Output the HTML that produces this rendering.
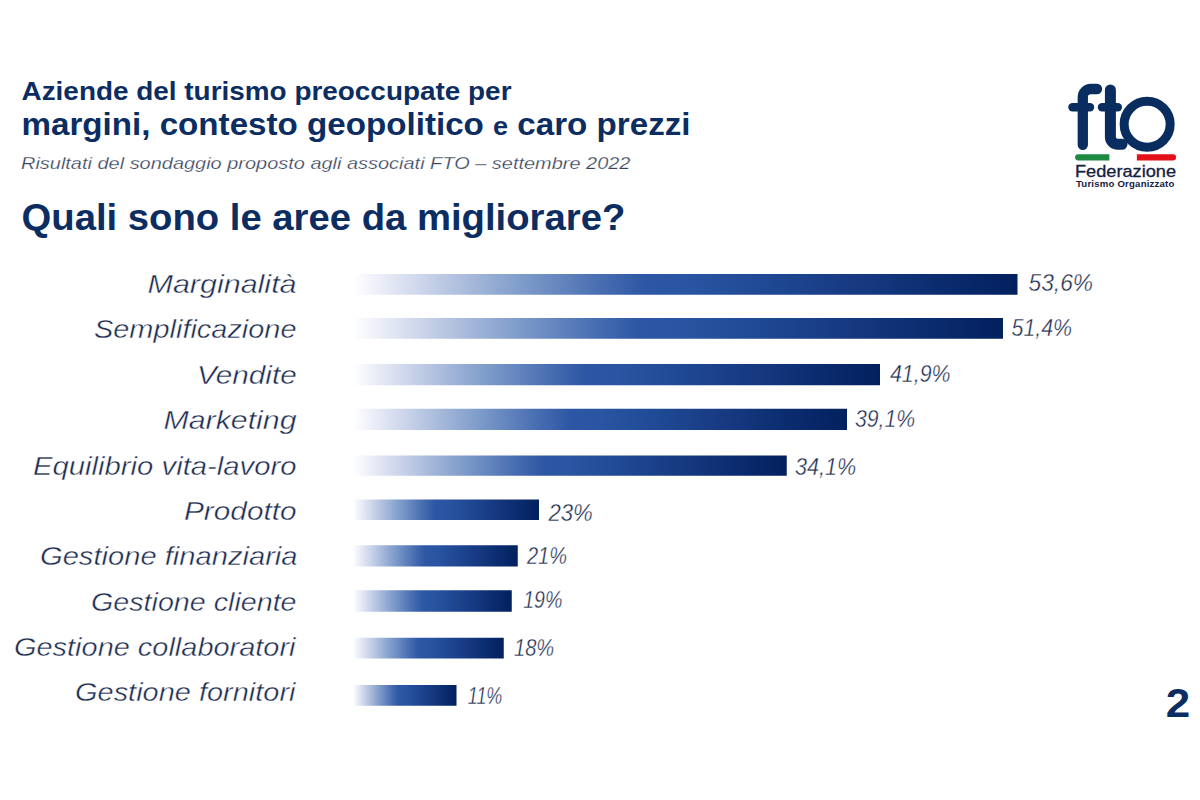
<!DOCTYPE html>
<html><head><meta charset="utf-8"><style>
html,body{margin:0;padding:0;background:#fff;width:1200px;height:800px;overflow:hidden}
svg{display:block}
text{font-family:"Liberation Sans",sans-serif}
</style></head><body>
<svg width="1200" height="800" viewBox="0 0 1200 800">
<defs><linearGradient id="g" x1="0" y1="0" x2="1" y2="0"><stop offset="0" stop-color="#ffffff"/><stop offset="0.07" stop-color="#dde2f2"/><stop offset="0.16" stop-color="#afbfde"/><stop offset="0.25" stop-color="#809dcb"/><stop offset="0.38" stop-color="#456bb0"/><stop offset="0.44" stop-color="#2d57a4"/><stop offset="0.5" stop-color="#2a55a2"/><stop offset="0.62" stop-color="#1f4994"/><stop offset="0.75" stop-color="#173a82"/><stop offset="0.876" stop-color="#0b2d70"/><stop offset="1" stop-color="#03205e"/></linearGradient></defs>
<rect width="1200" height="800" fill="#fff"/>
<g><rect x="353" y="274" width="664.50" height="20.75" fill="url(#g)"/><rect x="353" y="318" width="650.00" height="20.75" fill="url(#g)"/><rect x="353" y="364" width="527.00" height="21.25" fill="url(#g)"/><rect x="353" y="408.75" width="494.00" height="21.25" fill="url(#g)"/><rect x="353" y="455.5" width="433.75" height="20.25" fill="url(#g)"/><rect x="353" y="499.5" width="186.00" height="20.5" fill="url(#g)"/><rect x="353" y="545.25" width="164.75" height="21.25" fill="url(#g)"/><rect x="353" y="590.25" width="158.75" height="21.5" fill="url(#g)"/><rect x="353" y="637.75" width="150.75" height="20.75" fill="url(#g)"/><rect x="353" y="685" width="103.50" height="20.75" fill="url(#g)"/></g>
<text x="21.50" y="99.70" font-size="25" textLength="490.00" lengthAdjust="spacingAndGlyphs" font-weight="bold" fill="#0c2d62">Aziende del turismo preoccupate per</text>
<text x="21.50" y="135.30" font-size="30.6" textLength="669.03" lengthAdjust="spacingAndGlyphs" font-weight="bold" fill="#0c2d62">margini, contesto geopolitico <tspan font-size="25">e</tspan> caro prezzi</text>
<text x="21.00" y="169.30" font-size="17" textLength="609.41" lengthAdjust="spacingAndGlyphs" font-style="italic" fill="#36415a" stroke="#ffffff" stroke-width="0.25">Risultati del sondaggio proposto agli associati FTO – settembre 2022</text>
<text x="21.50" y="229.80" font-size="36" textLength="603.83" lengthAdjust="spacingAndGlyphs" font-weight="bold" fill="#0c2d62">Quali sono le aree da migliorare?</text>
<text x="1165.80" y="717.00" font-size="40.5" textLength="24.44" lengthAdjust="spacingAndGlyphs" font-weight="bold" fill="#0c2d62">2</text>
<text x="147.50" y="293.10" font-size="25.3" textLength="149.06" lengthAdjust="spacingAndGlyphs" font-style="italic" fill="#1b2b4e" stroke="#ffffff" stroke-width="0.4">Marginalità</text>
<text x="94.00" y="338.47" font-size="25.3" textLength="202.53" lengthAdjust="spacingAndGlyphs" font-style="italic" fill="#1b2b4e" stroke="#ffffff" stroke-width="0.4">Semplificazione</text>
<text x="197.00" y="383.84" font-size="25.3" textLength="99.70" lengthAdjust="spacingAndGlyphs" font-style="italic" fill="#1b2b4e" stroke="#ffffff" stroke-width="0.4">Vendite</text>
<text x="163.50" y="429.21" font-size="25.3" textLength="133.06" lengthAdjust="spacingAndGlyphs" font-style="italic" fill="#1b2b4e" stroke="#ffffff" stroke-width="0.4">Marketing</text>
<text x="33.00" y="474.58" font-size="25.3" textLength="263.52" lengthAdjust="spacingAndGlyphs" font-style="italic" fill="#1b2b4e" stroke="#ffffff" stroke-width="0.4">Equilibrio vita-lavoro</text>
<text x="184.00" y="519.95" font-size="25.3" textLength="112.55" lengthAdjust="spacingAndGlyphs" font-style="italic" fill="#1b2b4e" stroke="#ffffff" stroke-width="0.4">Prodotto</text>
<text x="40.00" y="565.32" font-size="25.3" textLength="257.56" lengthAdjust="spacingAndGlyphs" font-style="italic" fill="#1b2b4e" stroke="#ffffff" stroke-width="0.4">Gestione finanziaria</text>
<text x="91.00" y="610.69" font-size="25.3" textLength="205.54" lengthAdjust="spacingAndGlyphs" font-style="italic" fill="#1b2b4e" stroke="#ffffff" stroke-width="0.4">Gestione cliente</text>
<text x="14.00" y="656.06" font-size="25.3" textLength="281.51" lengthAdjust="spacingAndGlyphs" font-style="italic" fill="#1b2b4e" stroke="#ffffff" stroke-width="0.4">Gestione collaboratori</text>
<text x="75.00" y="701.43" font-size="25.3" textLength="220.52" lengthAdjust="spacingAndGlyphs" font-style="italic" fill="#1b2b4e" stroke="#ffffff" stroke-width="0.4">Gestione fornitori</text>
<text x="1028.50" y="291.00" font-size="24" textLength="64.56" lengthAdjust="spacingAndGlyphs" font-style="italic" fill="#1b2b4e" stroke="#ffffff" stroke-width="0.36">53,6%</text>
<text x="1011.50" y="336.30" font-size="24" textLength="60.56" lengthAdjust="spacingAndGlyphs" font-style="italic" fill="#1b2b4e" stroke="#ffffff" stroke-width="0.36">51,4%</text>
<text x="890.00" y="381.70" font-size="24" textLength="60.53" lengthAdjust="spacingAndGlyphs" font-style="italic" fill="#1b2b4e" stroke="#ffffff" stroke-width="0.36">41,9%</text>
<text x="855.00" y="427.30" font-size="24" textLength="60.07" lengthAdjust="spacingAndGlyphs" font-style="italic" fill="#1b2b4e" stroke="#ffffff" stroke-width="0.36">39,1%</text>
<text x="795.00" y="474.70" font-size="24" textLength="61.07" lengthAdjust="spacingAndGlyphs" font-style="italic" fill="#1b2b4e" stroke="#ffffff" stroke-width="0.36">34,1%</text>
<text x="548.50" y="520.75" font-size="24" textLength="44.31" lengthAdjust="spacingAndGlyphs" font-style="italic" fill="#1b2b4e" stroke="#ffffff" stroke-width="0.36">23%</text>
<text x="527.00" y="563.50" font-size="24" textLength="40.03" lengthAdjust="spacingAndGlyphs" font-style="italic" fill="#1b2b4e" stroke="#ffffff" stroke-width="0.36">21%</text>
<text x="523.25" y="607.75" font-size="24" textLength="39.14" lengthAdjust="spacingAndGlyphs" font-style="italic" fill="#1b2b4e" stroke="#ffffff" stroke-width="0.36">19%</text>
<text x="514.00" y="655.75" font-size="24" textLength="40.11" lengthAdjust="spacingAndGlyphs" font-style="italic" fill="#1b2b4e" stroke="#ffffff" stroke-width="0.36">18%</text>
<text x="467.75" y="704.40" font-size="24" textLength="34.58" lengthAdjust="spacingAndGlyphs" font-style="italic" fill="#1b2b4e" stroke="#ffffff" stroke-width="0.36">11%</text>
<text x="1075.00" y="176.80" font-size="16.3" textLength="101.05" lengthAdjust="spacingAndGlyphs" fill="#13213f" stroke="#13213f" stroke-width="0.3">Federazione</text>
<text x="1076.00" y="186.80" font-size="9.6" textLength="98.40" lengthAdjust="spacing" font-weight="bold" fill="#13213f">Turismo Organizzato</text>
<g fill="none" stroke="#0a2d5f" stroke-linecap="round">
<path d="M1082.8 144.8 V97 A8 8 0 0 1 1090.8 89 H1097" stroke-width="10.3"/>
<path d="M1072.5 107.2 H1090" stroke-width="8.4"/>
<path d="M1110.4 90 V137 A7.3 7.3 0 0 0 1117.7 144.3 H1122" stroke-width="11"/>
<path d="M1102 107.2 H1117.8" stroke-width="8.4"/>
<circle cx="1147.15" cy="124.25" r="23" stroke-width="9"/>
</g>
<path d="M1078.2 154.2 H1109.4 V160.4 H1078.2 A3.1 3.1 0 0 1 1078.2 154.2 Z" fill="#1e8a44"/>
<path d="M1136.9 154.2 H1173 A3.1 3.1 0 0 1 1173 160.4 H1136.9 Z" fill="#e3101a"/>
</svg>
</body></html>
